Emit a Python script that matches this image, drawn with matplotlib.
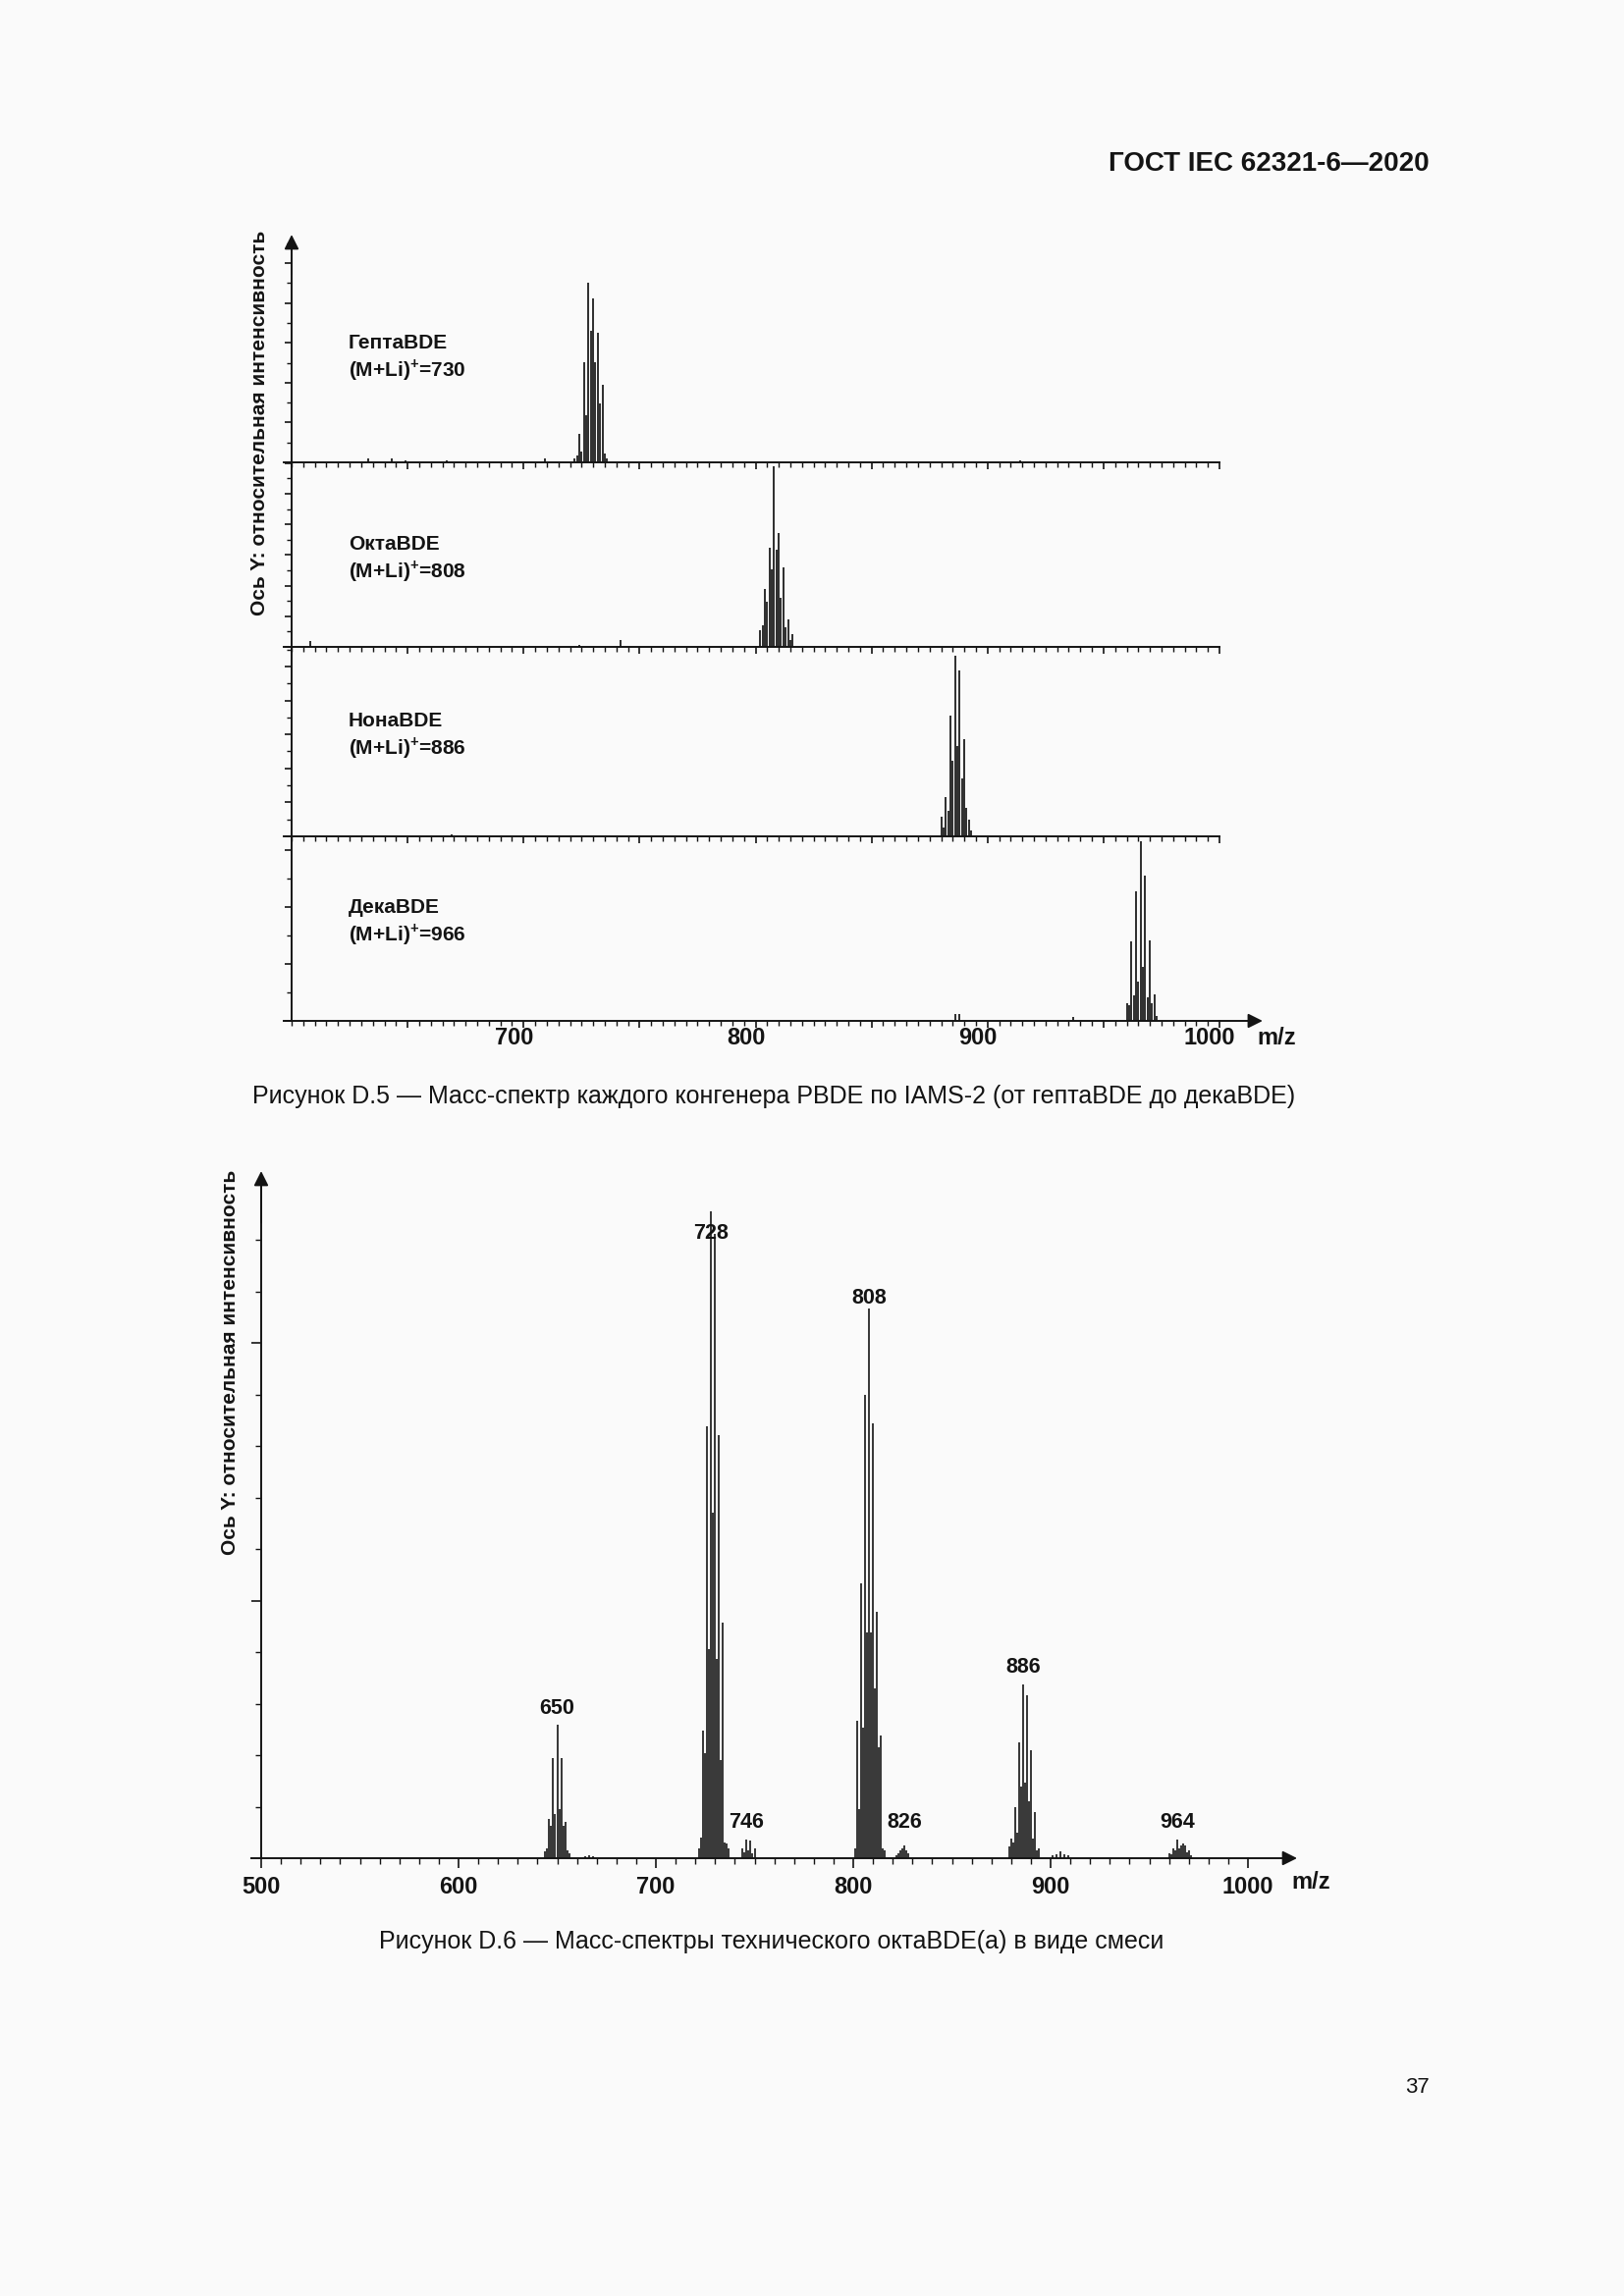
import numpy as np
import matplotlib
matplotlib.use('Agg')
import matplotlib.pyplot as plt
from matplotlib.ticker import MultipleLocator, FixedLocator, FuncFormatter, NullFormatter
from matplotlib.transforms import offset_copy

plt.rcParams['font.family'] = ['Liberation Sans', 'DejaVu Sans']
plt.rcParams['mathtext.fontset'] = 'custom'
plt.rcParams['mathtext.rm'] = 'Liberation Sans'
plt.rcParams['mathtext.bf'] = 'Liberation Sans:bold'

# ---- Figure D.5: spectra of single congeners (intensity in % of the main peak) ----
congeners = ['ГептаBDE', 'ОктаBDE', 'НонаBDE', 'ДекаBDE']
ions = [730, 808, 886, 966]

hepta_mz = [633, 643, 649, 667, 709, 722, 723, 724, 725, 726, 727, 728, 729, 730,
            731, 732, 733, 734, 735, 736, 914]
hepta_int = [2, 2, 1, 1, 2, 2, 4, 16, 6, 56, 26, 100, 73, 91,
             56, 72, 33, 43, 5, 2, 1]

octa_mz = [608, 724, 742, 802, 803, 804, 805, 806, 807, 808, 809, 810, 811, 812,
           813, 814, 815, 816]
octa_int = [3, 1, 4, 9, 12, 32, 25, 55, 43, 100, 54, 63, 27, 44,
            11, 15, 4, 7]

nona_mz = [669, 880, 881, 882, 883, 884, 885, 886, 887, 888, 889, 890, 891, 892, 893]
nona_int = [1, 11, 5, 22, 14, 67, 42, 100, 50, 92, 32, 54, 16, 9, 3]

deca_mz = [886, 888, 937, 960, 961, 962, 963, 964, 965, 966, 967, 968, 969, 970,
           971, 972, 973]
deca_int = [4, 4, 2, 10, 9, 44, 14, 72, 22, 100, 30, 81, 13, 45,
            10, 15, 3]

d5_ticks = [700, 800, 900, 1000]

# ---- Figure D.6: technical octaBDE mixture (intensity in axis tick units) ----
mix_mz = [644, 645, 646, 647, 648, 649, 650, 651, 652, 653, 654, 655, 656,
          664, 666, 668,
          722, 723, 724, 725, 726, 727, 728, 729, 730, 731, 732, 733, 734, 735, 736, 737,
          744, 745, 746, 747, 748, 749, 750,
          801, 802, 803, 804, 805, 806, 807, 808, 809, 810, 811, 812, 813, 814, 815, 816,
          822, 823, 824, 825, 826, 827, 828,
          879, 880, 881, 882, 883, 884, 885, 886, 887, 888, 889, 890, 891, 892, 893, 894,
          901, 903, 905, 907, 909,
          960, 961, 962, 963, 964, 965, 966, 967, 968, 969, 970, 971]
mix_int = [0.13, 0.19, 0.76, 0.63, 1.94, 0.86, 2.59, 0.95, 1.94, 0.63, 0.70, 0.15, 0.10,
           0.04, 0.05, 0.04,
           0.2, 0.4, 2.48, 2.04, 8.38, 4.06, 12.55, 6.7, 12.11, 3.87, 8.21, 1.9, 4.57, 0.3, 0.29, 0.2,
           0.2, 0.12, 0.36, 0.15, 0.34, 0.1, 0.19,
           0.2, 2.67, 0.95, 5.33, 2.53, 9.0, 4.38, 10.67, 4.38, 8.44, 3.3, 4.78, 2.15, 2.38, 0.19, 0.15,
           0.05, 0.1, 0.15, 0.2, 0.25, 0.15, 0.1,
           0.23, 0.38, 0.3, 1.0, 0.5, 2.25, 1.39, 3.37, 1.47, 3.16, 1.1, 2.1, 0.38, 0.89, 0.15, 0.19,
           0.05, 0.07, 0.13, 0.08, 0.05,
           0.1, 0.08, 0.19, 0.15, 0.36, 0.2, 0.25, 0.28, 0.25, 0.12, 0.15, 0.05]

peak_labels = [650, 728, 746, 808, 826, 886, 964]
label_y = [2.9, 12.13, 0.69, 10.86, 0.69, 3.70, 0.69]
d6_ticks = [500, 600, 700, 800, 900, 1000]

W, H = 1654, 2339
BG = '#fafafa'
INK = '#141414'

fig = plt.figure(figsize=(W / 100, H / 100), dpi=100, facecolor=BG)


def add_px_axes(left, top, right, bottom):
    ax = fig.add_axes([left / W, 1 - bottom / H, (right - left) / W, (bottom - top) / H])
    ax.set_facecolor('none')
    return ax


def ftext(x, y, s, **kw):
    return fig.text(x / W, 1 - y / H, s, color=INK, **kw)


def arrow(ax, start, end):
    ax.annotate('', xy=end, xytext=start, annotation_clip=False,
                arrowprops=dict(arrowstyle='-|>', color=INK, lw=1.4,
                                mutation_scale=22, shrinkA=0, shrinkB=0))


ftext(1456, 167, 'ГОСТ IEC 62321-6—2020', ha='right', va='center',
      fontsize=20, fontweight='bold')

# ---------------- D.5 ----------------
x_left, x_axis, x_right = 289, 297, 1291
px5 = 2.3625
xlim5 = (600 - (x_axis - x_left) / px5, 600 + (x_right - x_axis) / px5)
baselines = [471, 659, 852, 1040]
tops = [239, 471, 659, 852]
peak_px = [183, 184, 184, 183]
tick_px = [20.3, 15.6, 17.3, 29.0]
label_top = [350, 555, 735, 925]
spectra = [(hepta_mz, hepta_int), (octa_mz, octa_int),
           (nona_mz, nona_int), (deca_mz, deca_int)]

for i, (mz, inten) in enumerate(spectra):
    ax = add_px_axes(x_left, tops[i], x_right, baselines[i])
    scale = peak_px[i] / 100
    ymax = (baselines[i] - tops[i]) / scale
    ax.set_xlim(*xlim5)
    ax.set_ylim(0, ymax)
    ax.vlines(mz, 0, inten, color=INK, lw=1.25)

    for s in ['top', 'right']:
        ax.spines[s].set_visible(False)
    ax.spines['left'].set_position(('data', 600))
    ax.spines['left'].set_bounds(0, ymax - (12 / scale if i == 0 else 0))
    ax.spines['bottom'].set_bounds(xlim5[0], 1000)
    for s in ['left', 'bottom']:
        ax.spines[s].set_linewidth(1.4)
        ax.spines[s].set_color(INK)

    ax.yaxis.set_major_locator(MultipleLocator(2 * tick_px[i] / scale))
    ax.yaxis.set_minor_locator(MultipleLocator(tick_px[i] / scale))
    ax.yaxis.set_major_formatter(NullFormatter())
    ax.xaxis.set_major_locator(FixedLocator(np.arange(650, 1001, 50)))
    ax.xaxis.set_minor_locator(FixedLocator(np.arange(600, 1001, 5)))
    ax.xaxis.set_major_formatter(NullFormatter())
    ax.tick_params(which='major', length=5, width=1.2, color=INK, direction='out')
    ax.tick_params(which='minor', length=3.5, width=1.0, color=INK, direction='out')

    if i == 0:
        arrow(ax, (600, ymax - 40 / scale), (600, ymax))
    if i == 3:
        arrow(ax, (1000, 0), (1018.6, 0))
        # tick labels sit a little left of their ticks in the original
        lab_tr = offset_copy(ax.transData, fig, x=-10, y=-17, units='dots')
        for v in d5_ticks:
            ax.text(v, 0, str(v), transform=lab_tr, ha='center', va='center',
                    fontsize=17, fontweight='bold', color=INK)

    ftext(355, label_top[i], congeners[i], ha='left', va='center', fontsize=15,
          fontweight='bold')
    ftext(355, label_top[i] + 27, r'(M+Li)$^{\mathbf{+}}$=' + str(ions[i]),
          ha='left', va='center', fontsize=15, fontweight='bold')

ftext(265, 431, 'Ось Y: относительная интенсивность', rotation=90, ha='center',
      va='center', fontsize=15, fontweight='bold')
ftext(1300, 1057, 'm/z', ha='center', va='center', fontsize=17, fontweight='bold')
ftext(788, 1117, 'Рисунок D.5 — Масс-спектр каждого конгенера PBDE по IAMS-2 '
      '(от гептаBDE до декаBDE)', ha='center', va='center', fontsize=18)

# ---------------- D.6 ----------------
x6_left, x6_axis, x6_right = 256, 266, 1340
px6 = 2.01
y6_top, y6_base = 1193, 1893
py6 = 52.5
ax6 = add_px_axes(x6_left, y6_top, x6_right, y6_base)
xlim6 = (500 - (x6_axis - x6_left) / px6, 500 + (x6_right - x6_axis) / px6)
ymax6 = (y6_base - y6_top) / py6
ax6.set_xlim(*xlim6)
ax6.set_ylim(0, ymax6)
ax6.vlines(mix_mz, 0, mix_int, color=INK, lw=1.2)

for s in ['top', 'right']:
    ax6.spines[s].set_visible(False)
ax6.spines['left'].set_position(('data', 500))
ax6.spines['left'].set_bounds(0, ymax6 - 0.3)
ax6.spines['bottom'].set_bounds(xlim6[0], 1000)
for s in ['left', 'bottom']:
    ax6.spines[s].set_linewidth(1.4)
    ax6.spines[s].set_color(INK)

ax6.yaxis.set_major_locator(FixedLocator([5, 10]))
ax6.yaxis.set_minor_locator(FixedLocator(np.arange(1, 13)))
ax6.yaxis.set_major_formatter(NullFormatter())
ax6.xaxis.set_major_locator(FixedLocator(d6_ticks))
ax6.xaxis.set_minor_locator(FixedLocator(np.arange(500, 1001, 10)))
ax6.xaxis.set_major_formatter(FuncFormatter(lambda v, _: f'{v:.0f}'))
ax6.tick_params(which='major', length=7, width=1.2, color=INK, direction='out',
                pad=6, labelsize=17, labelcolor=INK)
ax6.tick_params(which='minor', length=4, width=1.0, color=INK, direction='out')
for lab in ax6.get_xticklabels():
    lab.set_fontweight('bold')

arrow(ax6, (500, ymax6 - 1.0), (500, ymax6))
arrow(ax6, (1000, 0), (1024.9, 0))

for mz, y in zip(peak_labels, label_y):
    ax6.text(mz, y, str(mz), ha='center', va='center', fontsize=15.5,
             fontweight='bold', color=INK)

ftext(234, 1388, 'Ось Y: относительная интенсивность', rotation=90, ha='center',
      va='center', fontsize=15, fontweight='bold')
ftext(1335, 1917, 'm/z', ha='center', va='center', fontsize=17, fontweight='bold')
ftext(786, 1978, 'Рисунок D.6 — Масс-спектры технического октаBDE(a) в виде смеси',
      ha='center', va='center', fontsize=18)

ftext(1456, 2127, '37', ha='right', va='center', fontsize=16)

fig.savefig('out.png', dpi=100, facecolor=BG)
